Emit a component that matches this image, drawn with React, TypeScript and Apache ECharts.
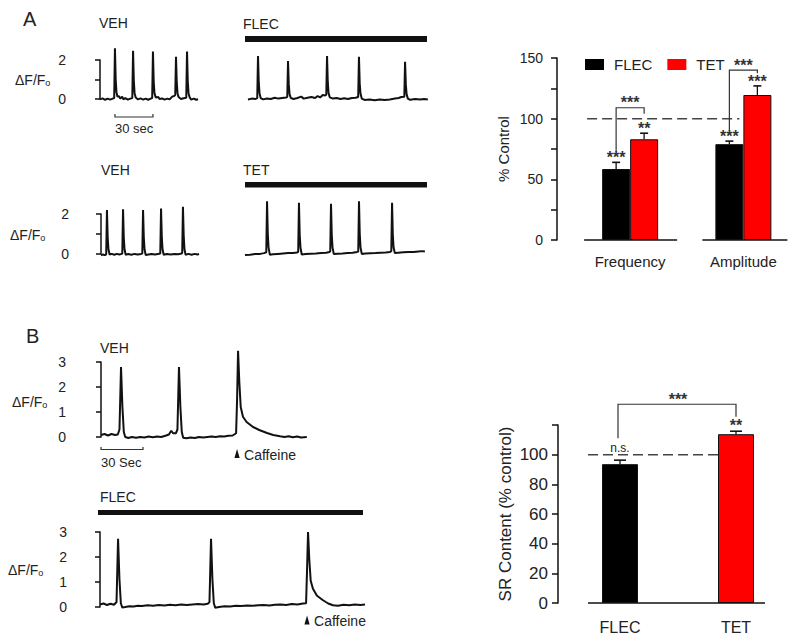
import React, { useEffect, useRef } from "react";
import * as echarts from "echarts";

const FONT = '"Liberation Sans", Arial, Helvetica, sans-serif';
const INK = "#111";
const TXT = "#222";
const RED = "#ff0000";

// ---------- Calcium transient traces: [time (s), ΔF/F0] ----------
const vehA1 = [
  [0, -0.02], [2, 0.03], [4, -0.04], [6, 0.02], [8, -0.03], [10, 0.02], [11.2, 0.05], [11.8, 2.6], [12.4, 1.0], [13.0, 0.35], [13.8, 0.12],
  [15, 0.15], [16, 0.02], [17.5, 0.12], [18.5, -0.02], [20, 0.05], [22, -0.03], [24, 0.02], [25.5, 0.05], [26.1, 2.47], [26.7, 0.95], [27.3, 0.3],
  [28.2, 0.08], [30, -0.02], [32, 0.03], [34, -0.03], [36, 0.02], [38, -0.04], [40, 0.02], [41.2, 0.05], [41.8, 2.43], [42.4, 0.9], [43, 0.3],
  [44, 0.08], [46, 0.1], [47, 0.0], [49, 0.03], [51, -0.03], [53, 0.02], [55, -0.02], [57, 0.12], [58.5, 0.15], [59.4, 0.2], [60, 2.17],
  [60.6, 0.85], [61.2, 0.3], [62, 0.1], [64, 0.0], [66, 0.04], [68.1, 0.06], [68.7, 2.43], [69.3, 0.9], [69.9, 0.3], [70.8, 0.08], [72, -0.03],
  [74, 0.02], [76, -0.04], [77.4, -0.01],
];
const flecA = [
  [0, -0.03], [3, 0.02], [6, 0.0], [7.3, 0.05], [7.9, 2.2], [8.5, 0.85], [9.1, 0.3], [10, 0.05], [12, -0.02], [15, 0.03], [18, 0.0], [21, 0.06],
  [24, 0.02], [27, 0.05], [30, 0.08], [31, 0.1], [31.6, 1.95], [32.2, 0.75], [32.8, 0.25], [33.8, 0.05], [36, 0.0], [39, 0.05], [42, 0.12],
  [44, 0.02], [47, 0.06], [50, 0.1], [53, 0.05], [55, 0.15], [57, 0.08], [59, 0.2], [61, 0.18], [61.8, 0.22], [62.4, 2.2], [63, 0.85], [63.6, 0.3],
  [64.6, 0.08], [67, 0.02], [70, 0.05], [73, 0.0], [76, 0.04], [79, 0.0], [82, 0.05], [85, 0.06], [87, 0.1], [87.6, 2.17], [88.2, 0.8],
  [88.8, 0.28], [89.8, 0.02], [92, -0.05], [96, -0.03], [100, -0.06], [104, -0.03], [108, -0.05], [112, -0.02], [116, 0.02], [119, 0.05],
  [121, 0.1], [123.4, 0.12], [124, 1.91], [124.6, 0.75], [125.2, 0.25], [126.2, 0.02], [128, -0.04], [132, 0.0], [136, -0.03], [139, 0.0], [142, -0.02],
];
const vehA2 = [
  [0, -0.1], [1.5, -0.05], [3, -0.08], [4.1, -0.04], [4.7, 2.2], [5.3, 0.8], [5.9, 0.2], [6.8, -0.05], [8.5, -0.02], [10.5, -0.06], [12.5, -0.02],
  [14.5, -0.05], [16.2, -0.02], [16.8, 0.0], [17.4, 2.24], [18, 0.8], [18.6, 0.2], [19.5, -0.06], [21.5, -0.03], [24, -0.06], [26.5, -0.02],
  [29, -0.05], [31.5, -0.02], [32.6, 0.0], [33.2, 2.2], [33.8, 0.8], [34.4, 0.2], [35.3, -0.08], [37.5, -0.05], [40, -0.02], [42.5, -0.05],
  [45, -0.02], [46.8, 0.0], [47.4, 2.28], [48, 0.85], [48.6, 0.2], [49.5, -0.06], [52, -0.03], [55, -0.05], [58, -0.02], [61, -0.04],
  [63.5, 0.0], [64.1, 0.02], [64.7, 2.36], [65.3, 0.9], [65.9, 0.2], [66.8, -0.06], [69, -0.02], [71.5, -0.06], [74, -0.02], [76, -0.05], [77.4, -0.03],
];
const tetA = [
  [0, -0.08], [4, -0.06], [8, -0.03], [12, -0.02], [15, 0.02], [16.8, 0.06], [17.4, 2.65], [18, 1.0], [18.6, 0.3], [19.6, -0.06], [22, -0.04],
  [26, -0.02], [30, 0.0], [34, 0.02], [38, 0.03], [41, 0.05], [42, 0.08], [42.6, 2.57], [43.2, 0.95], [43.8, 0.3], [44.8, -0.05], [48, -0.03],
  [52, -0.01], [56, 0.0], [60, 0.02], [64, 0.04], [66.8, 0.08], [67.3, 0.12], [67.9, 2.52], [68.5, 0.95], [69.1, 0.3], [70.1, -0.03], [73, -0.01],
  [77, 0.0], [81, 0.02], [85, 0.04], [88.5, 0.08], [89.4, 0.1], [90, 2.65], [90.6, 1.0], [91.2, 0.3], [92.2, -0.02], [95, 0.0], [99, 0.01],
  [103, 0.02], [107, 0.04], [111, 0.05], [114.5, 0.08], [115.5, 0.12], [116.1, 2.57], [116.7, 0.95], [117.3, 0.3], [118.3, 0.02], [121, 0.04],
  [125, 0.06], [129, 0.08], [133, 0.07], [137, 0.1], [140, 0.12], [142, 0.1],
];
const vehB = [
  [0, 0.08], [2.5, 0.12], [5, 0.06], [7.5, 0.12], [10, 0.08], [12, 0.1], [13.2, 0.3], [14.3, 2.8], [15.3, 1.2], [16.3, 0.2], [17.3, 0.0],
  [19.5, -0.04], [22, 0.0], [25, -0.03], [28, 0.0], [31, -0.02], [34, 0.02], [37, -0.01], [40, 0.02], [43, 0.0], [46, 0.05], [48.5, 0.1],
  [50.2, 0.25], [51.5, 0.15], [53.5, 0.15], [54.6, 0.3], [55.7, 2.8], [56.7, 1.2], [57.7, 0.2], [58.7, -0.03], [61, -0.05], [64, -0.02],
  [67, -0.04], [70, 0.0], [73, -0.02], [76, 0.0], [79, 0.02], [82, 0.0], [85, 0.03], [88, 0.02], [91, 0.05], [94, 0.06], [96.5, 0.15],
  [97.2, 1.5], [97.9, 3.45], [98.8, 2.2], [99.8, 1.2], [101.4, 0.81], [104, 0.6], [108.6, 0.4], [113, 0.28], [118.6, 0.16], [123, 0.08],
  [127.9, 0.03], [131, 0.0], [134, 0.03], [137, -0.01], [140, 0.02], [143, -0.02], [147, 0.0],
];
const flecB = [
  [0, 0.1], [2.5, 0.14], [5, 0.08], [7.5, 0.13], [10, 0.09], [11.8, 0.2], [12.9, 2.73], [13.9, 1.1], [14.9, 0.15], [15.9, -0.02], [18, 0.0],
  [21, 0.03], [24, 0.02], [27, 0.05], [30, 0.04], [34, 0.07], [38, 0.05], [42, 0.08], [46, 0.06], [50, 0.09], [54, 0.07], [58, 0.1], [62, 0.08],
  [66, 0.1], [70, 0.12], [74, 0.1], [77, 0.13], [78.2, 0.2], [79.3, 2.73], [80.3, 1.1], [81.3, 0.15], [82.3, -0.03], [85, 0.0], [89, 0.03],
  [93, 0.02], [97, 0.05], [101, 0.04], [105, 0.06], [109, 0.05], [113, 0.07], [117, 0.08], [121, 0.06], [125, 0.09], [129, 0.1], [133, 0.08],
  [137, 0.12], [141, 0.1], [145, 0.14], [147.2, 0.15], [147.9, 1.5], [148.6, 3.0], [149.5, 1.9], [150.5, 1.05], [152.1, 0.73], [155, 0.45],
  [159.3, 0.27], [163, 0.14], [166.4, 0.07], [170, 0.05], [174, 0.09], [178, 0.07], [182, 0.1], [186, 0.08], [189.3, 0.1],
];
const traceSpansA = [77.4, 142.1]; // s shown in VEH / drug columns
const traceSpansB = [147.1, 189.3];
const scaleBarSec = 30;
const caffeineTimes = [97.9, 148.6];

// ---------- Panel A bar chart (% Control) ----------
const barCatsA = ["Frequency", "Amplitude"];
const flecMeansA = [58.5, 79];
const flecErrTopA = [64, 81.5];
const tetMeansA = [83, 119.5];
const tetErrTopA = [88, 127];
const starsFlecA = ["***", "***"];
const starsTetA = ["**", "***"];
const bracketLevelA = [109, 140];
const bracketStarsA = ["***", "***"];

// ---------- Panel B bar chart (SR content) ----------
const barCatsB = ["FLEC", "TET"];
const meansB = [93.6, 113.8];
const errTopB = [96.3, 115.8];
const starsB = ["n.s.", "**"];
const bracketLevelB = 134;
const bracketStarB = "***";

const traceX = (gi: number, max: number) => ({ type: "value", gridIndex: gi, min: 0, max, show: false });
const traceY = (gi: number, max: number, visible: boolean, offset: number, sparse: boolean, margin: number) => ({
  type: "value",
  gridIndex: gi,
  min: 0,
  max,
  interval: 1,
  show: visible,
  offset,
  axisLine: { show: true, lineStyle: { color: INK, width: 1.5 } },
  axisTick: { show: true, length: 5, lineStyle: { color: INK, width: 1.5 } },
  axisLabel: {
    fontSize: 14,
    color: TXT,
    fontFamily: FONT,
    margin,
    formatter: (v: number) => (sparse && v % 2 !== 0 ? "" : String(v)),
  },
  splitLine: { show: false },
});
const traceSeries = (data: number[][], gi: number) => ({
  type: "line",
  xAxisIndex: gi,
  yAxisIndex: gi,
  data,
  symbol: "none",
  showSymbol: false,
  clip: false,
  silent: true,
  lineStyle: { color: INK, width: 2 },
});
const errSeries = (gi: number, data: number[][], dx: number, cap: number) => ({
  type: "custom",
  xAxisIndex: gi,
  yAxisIndex: gi,
  data,
  silent: true,
  z: 5,
  renderItem: (params: any, api: any) => {
    const i = api.value(0);
    const lo = api.coord([i, api.value(1)]);
    const hi = api.coord([i, api.value(2)]);
    const cx = lo[0] + dx;
    return {
      type: "group",
      children: [
        { type: "line", shape: { x1: cx, y1: lo[1], x2: cx, y2: hi[1] }, style: { stroke: INK, lineWidth: 1.3 } },
        { type: "line", shape: { x1: cx - cap, y1: hi[1], x2: cx + cap, y2: hi[1] }, style: { stroke: INK, lineWidth: 1.6 } },
      ],
    };
  },
});

function buildOption(): any {
  const pxA = 38 / scaleBarSec;
  const pxB = 42 / scaleBarSec;
  return {
    animation: false,
    backgroundColor: "#fff",
    textStyle: { fontFamily: FONT },
    legend: {
      data: ["FLEC", "TET"],
      left: 585,
      top: 57,
      padding: 0,
      icon: "rect",
      itemWidth: 19,
      itemHeight: 11,
      itemGap: 15,
      selectedMode: false,
      itemStyle: { borderWidth: 0 },
      textStyle: { fontSize: 15, color: TXT, fontFamily: FONT, padding: [0, 0, 0, 5] },
    },
    grid: [
      { left: 100, top: 60, width: traceSpansA[0] * pxA, height: 39 },
      { left: 248, top: 60, width: traceSpansA[1] * pxA, height: 39 },
      { left: 101, top: 214, width: traceSpansA[0] * pxA, height: 39.5 },
      { left: 245, top: 214, width: traceSpansA[1] * pxA, height: 39.5 },
      { left: 573.5, top: 58, width: 230, height: 182 },
      { left: 101, top: 362, width: traceSpansB[0] * pxB, height: 75 },
      { left: 100, top: 532, width: traceSpansB[1] * pxB, height: 75 },
      { left: 562, top: 425, width: 232, height: 178 },
    ],
    xAxis: [
      traceX(0, traceSpansA[0]),
      traceX(1, traceSpansA[1]),
      traceX(2, traceSpansA[0]),
      traceX(3, traceSpansA[1]),
      {
        type: "category",
        gridIndex: 4,
        data: barCatsA,
        axisLine: { show: false },
        axisTick: { show: false },
        axisLabel: { fontSize: 15, color: TXT, fontFamily: FONT, margin: 14 },
      },
      traceX(5, traceSpansB[0]),
      traceX(6, traceSpansB[1]),
      {
        type: "category",
        gridIndex: 7,
        data: barCatsB,
        axisLine: { show: false },
        axisTick: { show: false },
        axisLabel: { fontSize: 16, color: TXT, fontFamily: FONT, margin: 16 },
      },
    ],
    yAxis: [
      traceY(0, 2, true, 27, true, 7),
      traceY(1, 2, false, 0, true, 7),
      traceY(2, 2, true, 25, true, 7),
      traceY(3, 2, false, 0, true, 7),
      {
        type: "value",
        gridIndex: 4,
        min: 0,
        max: 150,
        interval: 25,
        offset: 16.5,
        axisLine: { show: true, lineStyle: { color: INK, width: 1.5 } },
        axisTick: { show: true, length: 6, lineStyle: { color: INK, width: 1.5 } },
        axisLabel: {
          fontSize: 14,
          color: TXT,
          fontFamily: FONT,
          margin: 14,
          formatter: (v: number) => (v % 50 === 0 ? String(v) : ""),
        },
        splitLine: { show: false },
        name: "% Control",
        nameLocation: "middle",
        nameRotate: 90,
        nameGap: 46,
        nameTextStyle: { fontSize: 15, color: TXT, fontFamily: FONT },
      },
      traceY(5, 3, true, 26, false, 9),
      traceY(6, 3, true, 24, false, 9),
      {
        type: "value",
        gridIndex: 7,
        min: 0,
        max: 120,
        interval: 20,
        offset: 4,
        axisLine: { show: true, lineStyle: { color: INK, width: 1.5 } },
        axisTick: { show: true, length: 6, lineStyle: { color: INK, width: 1.5 } },
        axisLabel: {
          fontSize: 17,
          color: TXT,
          fontFamily: FONT,
          margin: 10,
          formatter: (v: number) => (v === 120 ? "" : String(v)),
        },
        splitLine: { show: false },
        name: "SR Content (% control)",
        nameLocation: "middle",
        nameRotate: 90,
        nameGap: 44,
        nameTextStyle: { fontSize: 17, color: TXT, fontFamily: FONT },
      },
    ],
    series: [
      traceSeries(vehA1, 0),
      traceSeries(flecA, 1),
      traceSeries(vehA2, 2),
      traceSeries(tetA, 3),
      traceSeries(vehB, 5),
      traceSeries(flecB, 6),
      {
        type: "bar",
        name: "FLEC",
        xAxisIndex: 4,
        yAxisIndex: 4,
        data: flecMeansA,
        barWidth: 28,
        barGap: "0%",
        silent: true,
        itemStyle: { color: "#000", borderColor: INK, borderWidth: 1 },
      },
      {
        type: "bar",
        name: "TET",
        xAxisIndex: 4,
        yAxisIndex: 4,
        data: tetMeansA,
        barWidth: 28,
        barGap: "0%",
        silent: true,
        itemStyle: { color: RED, borderColor: INK, borderWidth: 1 },
      },
      errSeries(4, barCatsA.map((_, i) => [i, flecMeansA[i], flecErrTopA[i]]), -14, 4),
      errSeries(4, barCatsA.map((_, i) => [i, tetMeansA[i], tetErrTopA[i]]), 14, 4),
      {
        type: "bar",
        xAxisIndex: 7,
        yAxisIndex: 7,
        barWidth: 36,
        silent: true,
        data: meansB.map((v, i) => ({
          value: v,
          itemStyle: { color: i === 0 ? "#000" : RED, borderColor: INK, borderWidth: 1 },
        })),
      },
      errSeries(7, barCatsB.map((_, i) => [i, meansB[i], errTopB[i]]), 0, 6),
    ],
  };
}

function buildGraphics(chart: any): any[] {
  const P = (g: number, x: number, y: number) =>
    chart.convertToPixel({ xAxisIndex: g, yAxisIndex: g }, [x, y]) as number[];
  const T = (text: string, x: number, y: number, size: number, extra: any = {}) => ({
    type: "text",
    x,
    y,
    silent: true,
    style: { text, fontSize: size, fontFamily: FONT, fill: TXT, align: "left", verticalAlign: "middle", ...extra },
  });
  const L = (x1: number, y1: number, x2: number, y2: number, extra: any = {}) => ({
    type: "line",
    silent: true,
    shape: { x1, y1, x2, y2 },
    style: { stroke: INK, lineWidth: 1.5, ...extra },
  });
  const star = (text: string, x: number, vy: number) =>
    T(text, x, vy + 1, 16, { align: "center", fontWeight: "bold", fill: "#333" });
  const dff = (x: number, y: number) => ({
    type: "text",
    x,
    y,
    silent: true,
    style: {
      text: "ΔF/F{s|o}",
      fontSize: 14,
      fontFamily: FONT,
      fill: TXT,
      verticalAlign: "middle",
      rich: { s: { fontSize: 9, fontFamily: FONT, fill: TXT, verticalAlign: "bottom" } },
    },
  });
  const g: any[] = [];

  // panel letters and condition labels
  g.push(T("A", 23, 19, 20), T("B", 26, 336, 20));
  g.push(
    T("VEH", 99, 23, 14),
    T("FLEC", 243, 24, 14),
    T("VEH", 101, 170, 14),
    T("TET", 243, 170, 14),
    T("VEH", 100, 348, 14),
    T("FLEC", 100, 497, 14)
  );
  g.push(dff(15, 80), dff(10, 235), dff(12, 402), dff(8, 570));

  // drug application bars
  const rect = (x: number, y: number, w: number, h: number) => ({
    type: "rect",
    silent: true,
    shape: { x, y, width: w, height: h },
    style: { fill: INK },
  });
  g.push(rect(245, 36, 182, 6), rect(245, 182, 182, 5.5), rect(98, 510, 265, 5));

  // time scale bars
  const sa1 = P(0, 11.8, 0);
  const sa2 = P(0, 11.8 + scaleBarSec, 0);
  g.push({
    type: "polyline",
    silent: true,
    shape: { points: [[sa1[0], sa1[1] + 15], [sa1[0], sa1[1] + 18], [sa2[0], sa1[1] + 18], [sa2[0], sa1[1] + 15]] },
    style: { stroke: "#333", lineWidth: 1.2, fill: null },
  });
  g.push(T("30 sec", sa1[0], sa1[1] + 29, 13));
  const sb1 = P(5, 0, 0);
  const sb2 = P(5, scaleBarSec, 0);
  g.push({
    type: "polyline",
    silent: true,
    shape: { points: [[sb1[0], sb1[1] + 10], [sb1[0], sb1[1] + 12.5], [sb2[0], sb1[1] + 12.5], [sb2[0], sb1[1] + 10]] },
    style: { stroke: "#333", lineWidth: 1.2, fill: null },
  });
  g.push(T("30 Sec", sb1[0], sb1[1] + 25, 13));

  // caffeine arrows
  [
    [5, caffeineTimes[0], 12],
    [6, caffeineTimes[1], 8.5],
  ].forEach(([gi, t, off]) => {
    const p = P(gi, t, 0);
    const cx = p[0] - 1;
    const top = p[1] + off;
    g.push({
      type: "polygon",
      silent: true,
      shape: { points: [[cx - 2.6, top + 9], [cx + 2.6, top + 9], [cx, top]] },
      style: { fill: INK },
    });
    g.push(T("Caffeine", cx + 7, top + 5.5, 14));
  });

  // ---- Panel A bar annotations ----
  const cA = barCatsA.map((_, i) => P(4, i, 0)[0]);
  const yA = (v: number) => P(4, 0, v)[1];
  const y0A = yA(0);
  g.push(L(cA[0] - 46, y0A, cA[0] + 47, y0A), L(cA[1] - 41, y0A, cA[1] + 44, y0A));
  g.push(L(cA[0] - 43, yA(100), cA[1] - 4, yA(100), { lineDash: [10, 5], stroke: "#444", lineWidth: 1.5 }));
  const dropA = [6, 3];
  barCatsA.forEach((_, i) => {
    const fx = cA[i] - 14;
    const tx = cA[i] + 14;
    const fStar = yA(flecErrTopA[i]) - 5.5;
    const tStar = yA(tetErrTopA[i]) - 5.5;
    g.push(star(starsFlecA[i], fx, fStar), star(starsTetA[i], tx, tStar));
    const lv = yA(bracketLevelA[i]);
    g.push({
      type: "polyline",
      silent: true,
      shape: { points: [[fx, fStar - 4.5], [fx, lv], [tx, lv], [tx, lv + dropA[i]]] },
      style: { stroke: "#333", lineWidth: 1.2, fill: null },
    });
    g.push(star(bracketStarsA[i], cA[i], lv - 6));
  });

  // ---- Panel B bar annotations ----
  const cB = barCatsB.map((_, i) => P(7, i, 0)[0]);
  const yB = (v: number) => P(7, 0, v)[1];
  const y0B = yB(0);
  g.push(L(cB[0] - 32, y0B, cB[1] + 29, y0B));
  g.push(L(cB[0] - 32, yB(100), cB[1] - 18, yB(100), { lineDash: [10, 5], stroke: "#444", lineWidth: 1.5 }));
  const nsY = yB(errTopB[0]) - 12;
  g.push(T(starsB[0], cB[0], nsY, 12, { align: "center" }));
  const sY = yB(errTopB[1]) - 6.5;
  g.push(star(starsB[1], cB[1], sY));
  const lvB = yB(bracketLevelB);
  g.push({
    type: "polyline",
    silent: true,
    shape: { points: [[cB[0] - 2, nsY - 10], [cB[0] - 2, lvB], [cB[1], lvB], [cB[1], sY - 8]] },
    style: { stroke: "#333", lineWidth: 1.2, fill: null },
  });
  g.push(star(bracketStarB, (cB[0] + cB[1]) / 2, lvB - 6));
  return g;
}

export default function App() {
  const ref = useRef<HTMLDivElement>(null);
  useEffect(() => {
    const chart = echarts.init(ref.current as HTMLDivElement, null, { renderer: "svg" });
    chart.setOption(buildOption());
    chart.setOption({ graphic: buildGraphics(chart) });
    return () => chart.dispose();
  }, []);
  return (
    <div
      ref={ref}
      style={{ position: "fixed", left: 0, top: 0, width: 800, height: 639, background: "#fff" }}
    />
  );
}
